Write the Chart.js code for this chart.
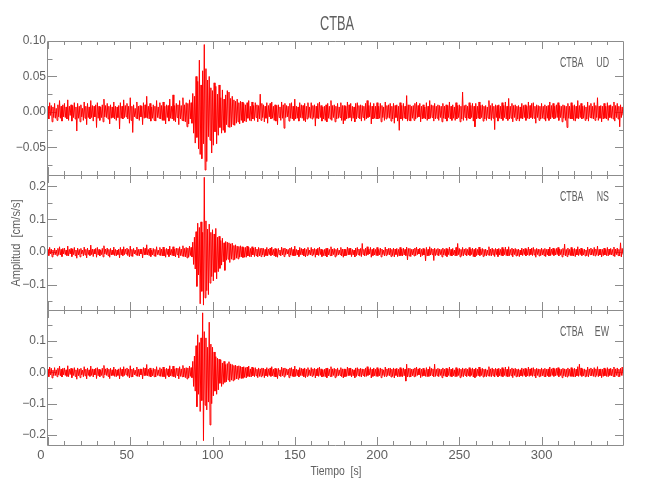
<!DOCTYPE html>
<html>
<head>
<meta charset="utf-8">
<script src="https://cdn.jsdelivr.net/npm/chart.js@4.4.1/dist/chart.umd.min.js"></script>
<style>
  body { margin: 0; background: #fff; }
  #fig { position: relative; width: 650px; height: 500px; overflow: hidden;
         font-family: 'Liberation Sans', Arial, sans-serif; color: #606060; }
  canvas { position: absolute; left: 0; }
  .lbl { position: absolute; white-space: pre; text-align: center; z-index: 5; }
</style>
</head>
<body>
<div id="fig">
  <canvas id="panelUD" width="650" height="160" style="top:25px"></canvas>
  <canvas id="panelNS" width="650" height="155" style="top:165px"></canvas>
  <canvas id="panelEW" width="650" height="170" style="top:300px"></canvas>
  <div class="lbl" style="left:237px;top:13px;width:200px;font-size:20px;line-height:20px;transform:scaleX(0.64)">CTBA</div>
  <div class="lbl" style="left:-84px;top:234.5px;width:200px;height:16px;font-size:13px;line-height:16px;transform:rotate(-90deg) scaleX(0.85)">Amplitud  [cm/s/s]</div>
  <div class="lbl" style="left:236px;top:462.5px;width:200px;font-size:13px;line-height:16px;transform:scaleX(0.8)">Tiempo  [s]</div>
</div>
<script>
// two samples per second, 0..349.5 s (each row below = 10 s)
const times = Array.from({ length: 700 }, (_, i) => i * 0.5);
const timeTicks = [0, 50, 100, 150, 200, 250, 300];
const station = 'CTBA';

// vertical component [cm/s/s]
const udValues = [
  0.008,-0.010,0.013,-0.005,0.009,-0.014,0.007,-0.008,0.012,-0.009,0.005,-0.012,0.010,-0.007,0.016,-0.009,0.008,-0.013,0.010,-0.007,
  0.012,-0.008,0.007,-0.010,0.017,-0.012,0.008,-0.005,0.010,-0.013,0.009,-0.008,0.013,-0.010,0.007,-0.027,0.012,-0.009,0.008,-0.014,
  0.010,-0.007,0.005,-0.012,0.014,-0.009,0.008,-0.018,0.012,-0.008,0.007,-0.010,0.016,-0.008,0.009,-0.013,0.008,-0.007,0.010,-0.022,
  0.013,-0.009,0.008,-0.012,0.007,-0.008,0.010,-0.014,0.018,-0.007,0.009,-0.008,0.012,-0.010,0.008,-0.017,0.010,-0.009,0.007,-0.008,
  0.014,-0.010,0.008,-0.012,0.007,-0.008,0.009,-0.024,0.013,-0.009,0.008,-0.010,0.017,-0.008,0.009,-0.007,0.012,-0.010,0.008,-0.016,
  0.020,-0.012,0.008,-0.029,0.010,-0.007,0.005,-0.009,0.014,-0.010,0.008,-0.012,0.009,-0.007,0.008,-0.018,0.013,-0.009,0.010,-0.008,
  0.022,-0.009,0.008,-0.010,0.012,-0.013,0.007,-0.009,0.010,-0.012,0.008,-0.013,0.016,-0.008,0.007,-0.009,0.013,-0.010,0.009,-0.012,
  0.014,-0.012,0.008,-0.017,0.010,-0.008,0.009,-0.013,0.018,-0.009,0.008,-0.010,0.024,-0.012,0.009,-0.014,0.012,-0.008,0.010,-0.018,
  0.016,-0.010,0.009,-0.012,0.020,-0.013,0.010,-0.014,0.013,-0.021,0.012,-0.017,0.017,-0.010,0.013,-0.016,0.026,-0.030,0.022,-0.044,
  0.050,-0.036,0.043,-0.052,0.073,-0.060,0.038,-0.066,0.058,-0.045,0.095,-0.082,0.061,-0.070,0.045,-0.035,0.050,-0.040,0.034,-0.058,
  0.030,-0.047,0.041,-0.028,0.036,-0.045,0.025,-0.033,0.038,-0.022,0.020,-0.030,0.031,-0.026,0.018,-0.029,0.024,-0.018,0.030,-0.021,
  0.028,-0.022,0.019,-0.021,0.022,-0.018,0.017,-0.019,0.015,-0.016,0.018,-0.014,0.013,-0.017,0.015,-0.012,0.014,-0.015,0.012,-0.013,
  0.010,-0.014,0.013,-0.009,0.016,-0.012,0.008,-0.013,0.014,-0.010,0.009,-0.012,0.013,-0.008,0.010,-0.014,0.009,-0.010,0.025,-0.012,
  0.012,-0.008,0.010,-0.014,0.008,-0.009,0.013,-0.016,0.009,-0.007,0.012,-0.010,0.014,-0.009,0.008,-0.012,0.010,-0.013,0.009,-0.018,
  0.010,-0.008,0.007,-0.012,0.014,-0.009,0.010,-0.023,0.012,-0.008,0.009,-0.007,0.008,-0.013,0.012,-0.009,0.013,-0.010,0.008,-0.012,
  0.018,-0.010,0.008,-0.009,0.007,-0.013,0.013,-0.008,0.010,-0.009,0.009,-0.012,0.012,-0.014,0.008,-0.010,0.013,-0.008,0.007,-0.009,
  0.013,-0.010,0.009,-0.008,0.010,-0.020,0.008,-0.009,0.012,-0.010,0.014,-0.008,0.009,-0.013,0.007,-0.010,0.008,-0.012,0.010,-0.014,
  0.012,-0.009,0.008,-0.010,0.016,-0.012,0.009,-0.008,0.010,-0.014,0.008,-0.010,0.012,-0.009,0.007,-0.008,0.013,-0.012,0.009,-0.017,
  0.009,-0.012,0.008,-0.010,0.014,-0.009,0.010,-0.008,0.012,-0.013,0.008,-0.009,0.007,-0.014,0.012,-0.010,0.013,-0.008,0.009,-0.010,
  0.010,-0.013,0.009,-0.008,0.008,-0.012,0.012,-0.010,0.016,-0.008,0.009,-0.007,0.013,-0.017,0.008,-0.010,0.012,-0.009,0.008,-0.010,
  0.013,-0.010,0.008,-0.009,0.012,-0.014,0.009,-0.008,0.007,-0.012,0.014,-0.010,0.009,-0.008,0.010,-0.009,0.012,-0.013,0.008,-0.010,
  0.012,-0.016,0.009,-0.008,0.010,-0.013,0.008,-0.026,0.013,-0.010,0.009,-0.012,0.012,-0.009,0.008,-0.010,0.023,-0.013,0.010,-0.012,
  0.010,-0.013,0.008,-0.009,0.009,-0.012,0.012,-0.010,0.014,-0.008,0.009,-0.007,0.012,-0.014,0.008,-0.010,0.010,-0.009,0.007,-0.010,
  0.013,-0.012,0.008,-0.010,0.016,-0.009,0.010,-0.008,0.009,-0.013,0.012,-0.010,0.008,-0.009,0.010,-0.012,0.009,-0.008,0.008,-0.014,
  0.012,-0.009,0.008,-0.010,0.010,-0.013,0.009,-0.008,0.014,-0.010,0.008,-0.012,0.010,-0.009,0.007,-0.012,0.013,-0.010,0.009,-0.008,
  0.010,-0.014,0.008,-0.010,0.028,-0.012,0.009,-0.008,0.010,-0.012,0.008,-0.009,0.013,-0.010,0.009,-0.008,0.012,-0.013,0.008,-0.021,
  0.012,-0.010,0.008,-0.009,0.014,-0.010,0.009,-0.008,0.010,-0.013,0.008,-0.010,0.009,-0.012,0.007,-0.009,0.016,-0.010,0.009,-0.012,
  0.012,-0.009,0.008,-0.025,0.010,-0.008,0.009,-0.013,0.010,-0.009,0.008,-0.010,0.013,-0.012,0.009,-0.008,0.014,-0.010,0.008,-0.012,
  0.019,-0.010,0.008,-0.009,0.012,-0.014,0.009,-0.008,0.010,-0.012,0.008,-0.010,0.009,-0.013,0.007,-0.009,0.012,-0.010,0.009,-0.008,
  0.010,-0.012,0.008,-0.009,0.014,-0.010,0.009,-0.008,0.012,-0.010,0.013,-0.009,0.008,-0.016,0.010,-0.008,0.009,-0.012,0.008,-0.010,
  0.012,-0.009,0.008,-0.010,0.010,-0.013,0.008,-0.009,0.009,-0.012,0.014,-0.010,0.009,-0.008,0.012,-0.010,0.008,-0.009,0.010,-0.008,
  0.013,-0.012,0.009,-0.008,0.008,-0.014,0.010,-0.009,0.009,-0.012,0.008,-0.022,0.012,-0.009,0.008,-0.010,0.013,-0.010,0.009,-0.012,
  0.010,-0.013,0.008,-0.009,0.016,-0.010,0.009,-0.008,0.012,-0.010,0.008,-0.009,0.009,-0.012,0.007,-0.010,0.014,-0.013,0.009,-0.008,
  0.012,-0.009,0.008,-0.010,0.013,-0.012,0.009,-0.008,0.020,-0.012,0.008,-0.009,0.009,-0.014,0.008,-0.010,0.012,-0.009,0.008,-0.010,
  0.013,-0.012,0.009,-0.008,0.010,-0.009,0.008,-0.010,0.014,-0.013,0.009,-0.008,0.012,-0.010,0.008,-0.021,0.010,-0.008,0.007,-0.005
];

// north-south component [cm/s/s]
const nsValues = [
  0.008,-0.011,0.014,-0.006,0.009,-0.015,0.006,-0.009,0.012,-0.008,0.006,-0.012,0.011,-0.008,0.016,-0.009,0.008,-0.014,0.011,-0.006,
  0.012,-0.008,0.006,-0.011,0.018,-0.012,0.008,-0.006,0.011,-0.014,0.009,-0.008,0.014,-0.011,0.006,-0.019,0.012,-0.009,0.008,-0.015,
  0.011,-0.006,0.006,-0.012,0.015,-0.009,0.008,-0.018,0.012,-0.008,0.006,-0.011,0.021,-0.008,0.009,-0.014,0.008,-0.006,0.011,-0.016,
  0.014,-0.009,0.008,-0.012,0.006,-0.008,0.011,-0.015,0.019,-0.006,0.009,-0.008,0.012,-0.011,0.008,-0.016,0.011,-0.009,0.006,-0.008,
  0.015,-0.011,0.008,-0.012,0.006,-0.008,0.009,-0.018,0.014,-0.009,0.008,-0.011,0.016,-0.008,0.009,-0.006,0.012,-0.011,0.008,-0.015,
  0.018,-0.012,0.008,-0.014,0.011,-0.006,0.006,-0.009,0.015,-0.011,0.008,-0.012,0.009,-0.006,0.008,-0.018,0.014,-0.009,0.011,-0.008,
  0.022,-0.009,0.008,-0.011,0.012,-0.014,0.006,-0.009,0.011,-0.012,0.008,-0.014,0.016,-0.008,0.006,-0.009,0.014,-0.011,0.009,-0.012,
  0.015,-0.012,0.008,-0.016,0.011,-0.008,0.009,-0.014,0.018,-0.009,0.008,-0.011,0.016,-0.012,0.009,-0.015,0.012,-0.008,0.011,-0.018,
  0.016,-0.011,0.009,-0.012,0.019,-0.014,0.011,-0.015,0.014,-0.018,0.012,-0.016,0.018,-0.011,0.014,-0.015,0.030,-0.038,0.045,-0.052,
  0.062,-0.105,0.088,-0.070,0.075,-0.158,0.092,-0.120,0.060,-0.162,0.228,-0.140,0.095,-0.118,0.070,-0.130,0.085,-0.095,0.060,-0.075,
  0.068,-0.088,0.055,-0.062,0.072,-0.082,0.045,-0.060,0.048,-0.050,0.035,-0.040,0.042,-0.030,0.028,-0.056,0.032,-0.025,0.030,-0.022,
  0.028,-0.032,0.025,-0.022,0.027,-0.024,0.020,-0.023,0.022,-0.019,0.018,-0.021,0.017,-0.016,0.019,-0.015,0.016,-0.017,0.014,-0.016,
  0.014,-0.016,0.018,-0.012,0.015,-0.014,0.011,-0.015,0.016,-0.009,0.012,-0.014,0.015,-0.011,0.009,-0.015,0.014,-0.012,0.011,-0.014,
  0.012,-0.009,0.011,-0.015,0.008,-0.011,0.014,-0.012,0.009,-0.008,0.012,-0.011,0.015,-0.009,0.008,-0.012,0.011,-0.014,0.009,-0.016,
  0.011,-0.008,0.006,-0.012,0.015,-0.009,0.011,-0.014,0.012,-0.008,0.009,-0.006,0.008,-0.014,0.012,-0.009,0.014,-0.011,0.008,-0.012,
  0.018,-0.011,0.008,-0.009,0.006,-0.014,0.014,-0.008,0.011,-0.009,0.009,-0.012,0.012,-0.015,0.008,-0.011,0.014,-0.008,0.006,-0.009,
  0.014,-0.011,0.009,-0.008,0.011,-0.016,0.008,-0.009,0.012,-0.011,0.015,-0.008,0.009,-0.014,0.006,-0.011,0.008,-0.012,0.011,-0.015,
  0.012,-0.009,0.008,-0.011,0.016,-0.012,0.009,-0.008,0.011,-0.015,0.008,-0.011,0.012,-0.009,0.006,-0.008,0.014,-0.012,0.009,-0.016,
  0.009,-0.012,0.008,-0.011,0.015,-0.009,0.011,-0.008,0.012,-0.014,0.008,-0.009,0.006,-0.015,0.012,-0.011,0.014,-0.008,0.009,-0.011,
  0.011,-0.014,0.026,-0.008,0.008,-0.012,0.012,-0.011,0.016,-0.008,0.009,-0.006,0.014,-0.016,0.008,-0.011,0.012,-0.009,0.008,-0.011,
  0.014,-0.011,0.008,-0.009,0.012,-0.015,0.009,-0.008,0.006,-0.012,0.015,-0.011,0.009,-0.008,0.011,-0.009,0.012,-0.014,0.008,-0.011,
  0.012,-0.015,0.009,-0.008,0.011,-0.014,0.008,-0.012,0.014,-0.011,0.009,-0.012,0.012,-0.009,0.008,-0.011,0.015,-0.024,0.011,-0.012,
  0.011,-0.014,0.008,-0.009,0.009,-0.012,0.012,-0.011,0.015,-0.008,0.009,-0.006,0.012,-0.015,0.008,-0.011,0.011,-0.009,0.008,-0.027,
  0.014,-0.012,0.008,-0.011,0.016,-0.009,0.011,-0.008,0.009,-0.026,0.012,-0.011,0.008,-0.009,0.011,-0.012,0.009,-0.008,0.008,-0.015,
  0.012,-0.009,0.008,-0.011,0.011,-0.014,0.009,-0.008,0.015,-0.011,0.008,-0.012,0.011,-0.009,0.006,-0.012,0.014,-0.011,0.026,-0.008,
  0.011,-0.015,0.008,-0.011,0.014,-0.012,0.009,-0.008,0.011,-0.012,0.008,-0.009,0.014,-0.011,0.009,-0.008,0.012,-0.014,0.008,-0.015,
  0.012,-0.011,0.008,-0.009,0.015,-0.011,0.009,-0.008,0.011,-0.014,0.008,-0.011,0.009,-0.012,0.006,-0.009,0.016,-0.011,0.009,-0.012,
  0.012,-0.009,0.008,-0.014,0.011,-0.008,0.009,-0.014,0.011,-0.009,0.008,-0.011,0.014,-0.012,0.009,-0.008,0.015,-0.011,0.008,-0.012,
  0.016,-0.011,0.008,-0.009,0.012,-0.015,0.009,-0.008,0.011,-0.012,0.008,-0.011,0.009,-0.014,0.006,-0.009,0.012,-0.011,0.009,-0.008,
  0.011,-0.012,0.008,-0.009,0.015,-0.011,0.009,-0.008,0.012,-0.011,0.014,-0.009,0.008,-0.016,0.011,-0.008,0.009,-0.012,0.008,-0.011,
  0.012,-0.009,0.008,-0.011,0.011,-0.014,0.008,-0.009,0.009,-0.012,0.015,-0.011,0.009,-0.008,0.012,-0.011,0.008,-0.009,0.011,-0.008,
  0.014,-0.012,0.009,-0.008,0.008,-0.015,0.011,-0.009,0.024,-0.012,0.008,-0.014,0.012,-0.009,0.008,-0.011,0.014,-0.011,0.009,-0.012,
  0.011,-0.014,0.008,-0.009,0.016,-0.011,0.009,-0.008,0.012,-0.011,0.008,-0.009,0.009,-0.012,0.006,-0.011,0.015,-0.014,0.009,-0.008,
  0.012,-0.009,0.008,-0.011,0.014,-0.012,0.009,-0.008,0.018,-0.012,0.008,-0.009,0.009,-0.015,0.008,-0.011,0.012,-0.009,0.008,-0.011,
  0.014,-0.012,0.009,-0.008,0.011,-0.009,0.008,-0.011,0.015,-0.014,0.009,-0.008,0.012,-0.011,0.008,-0.012,0.028,-0.015,0.011,-0.008
];

// east-west component [cm/s/s]
const ewValues = [
  0.010,-0.014,0.017,-0.008,0.013,-0.018,0.007,-0.011,0.015,-0.010,0.008,-0.014,0.013,-0.008,0.020,-0.011,0.010,-0.015,0.013,-0.008,
  0.014,-0.010,0.008,-0.013,0.021,-0.014,0.010,-0.007,0.013,-0.017,0.011,-0.010,0.015,-0.013,0.008,-0.022,0.014,-0.011,0.010,-0.017,
  0.013,-0.008,0.007,-0.014,0.018,-0.011,0.010,-0.021,0.014,-0.010,0.008,-0.013,0.020,-0.010,0.011,-0.015,0.010,-0.008,0.013,-0.020,
  0.015,-0.011,0.010,-0.014,0.008,-0.010,0.013,-0.017,0.022,-0.008,0.011,-0.010,0.014,-0.013,0.010,-0.020,0.013,-0.011,0.008,-0.010,
  0.017,-0.013,0.010,-0.014,0.008,-0.010,0.011,-0.021,0.015,-0.011,0.010,-0.013,0.018,-0.010,0.011,-0.008,0.014,-0.013,0.010,-0.018,
  0.021,-0.014,0.010,-0.015,0.013,-0.008,0.007,-0.011,0.017,-0.013,0.010,-0.014,0.011,-0.008,0.010,-0.021,0.015,-0.011,0.013,-0.010,
  0.025,-0.011,0.010,-0.013,0.014,-0.015,0.008,-0.011,0.013,-0.014,0.010,-0.015,0.018,-0.010,0.008,-0.011,0.015,-0.013,0.011,-0.014,
  0.017,-0.014,0.010,-0.020,0.013,-0.010,0.011,-0.015,0.021,-0.011,0.010,-0.013,0.020,-0.014,0.011,-0.017,0.014,-0.010,0.013,-0.021,
  0.018,-0.013,0.011,-0.014,0.022,-0.015,0.013,-0.017,0.015,-0.021,0.014,-0.018,0.020,-0.013,0.015,-0.017,0.035,-0.045,0.052,-0.060,
  0.085,-0.110,0.120,-0.070,0.095,-0.125,0.110,-0.090,0.190,-0.218,0.130,-0.105,0.110,-0.120,0.080,-0.095,0.160,-0.168,0.090,-0.100,
  0.080,-0.075,0.065,-0.060,0.050,-0.070,0.045,-0.056,0.042,-0.035,0.040,-0.045,0.030,-0.038,0.035,-0.032,0.025,-0.030,0.028,-0.024,
  0.034,-0.030,0.027,-0.025,0.025,-0.027,0.022,-0.024,0.023,-0.021,0.020,-0.022,0.021,-0.018,0.019,-0.020,0.017,-0.019,0.018,-0.016,
  0.015,-0.018,0.017,-0.013,0.020,-0.014,0.011,-0.015,0.017,-0.011,0.013,-0.014,0.015,-0.011,0.010,-0.017,0.014,-0.013,0.011,-0.014,
  0.014,-0.011,0.013,-0.017,0.010,-0.011,0.015,-0.014,0.011,-0.010,0.014,-0.013,0.018,-0.011,0.010,-0.014,0.013,-0.015,0.011,-0.020,
  0.013,-0.010,0.008,-0.014,0.017,-0.011,0.013,-0.015,0.014,-0.010,0.011,-0.008,0.010,-0.017,0.014,-0.011,0.015,-0.013,0.010,-0.014,
  0.020,-0.013,0.010,-0.011,0.008,-0.015,0.015,-0.010,0.013,-0.011,0.011,-0.014,0.014,-0.017,0.010,-0.013,0.015,-0.010,0.008,-0.011,
  0.015,-0.013,0.011,-0.010,0.013,-0.018,0.010,-0.011,0.014,-0.013,0.017,-0.010,0.011,-0.015,0.008,-0.013,0.010,-0.014,0.013,-0.017,
  0.014,-0.011,0.010,-0.013,0.018,-0.014,0.011,-0.010,0.013,-0.017,0.010,-0.013,0.014,-0.011,0.008,-0.010,0.015,-0.014,0.011,-0.018,
  0.011,-0.014,0.010,-0.013,0.017,-0.011,0.013,-0.010,0.014,-0.015,0.010,-0.011,0.008,-0.017,0.014,-0.013,0.015,-0.010,0.011,-0.013,
  0.013,-0.015,0.011,-0.010,0.010,-0.014,0.014,-0.013,0.018,-0.010,0.011,-0.008,0.015,-0.018,0.010,-0.013,0.014,-0.011,0.010,-0.013,
  0.015,-0.013,0.010,-0.011,0.014,-0.017,0.011,-0.010,0.008,-0.014,0.017,-0.013,0.011,-0.010,0.013,-0.011,0.014,-0.015,0.010,-0.013,
  0.014,-0.018,0.011,-0.010,0.013,-0.015,0.010,-0.014,0.015,-0.013,0.011,-0.014,0.014,-0.011,0.010,-0.028,0.026,-0.015,0.013,-0.014,
  0.013,-0.015,0.010,-0.011,0.011,-0.014,0.014,-0.013,0.017,-0.010,0.011,-0.008,0.014,-0.017,0.010,-0.013,0.013,-0.011,0.008,-0.013,
  0.015,-0.014,0.010,-0.013,0.018,-0.011,0.013,-0.010,0.011,-0.015,0.026,-0.013,0.010,-0.011,0.013,-0.014,0.011,-0.010,0.010,-0.017,
  0.014,-0.011,0.010,-0.013,0.013,-0.015,0.011,-0.010,0.017,-0.013,0.010,-0.014,0.013,-0.011,0.008,-0.014,0.015,-0.013,0.011,-0.010,
  0.013,-0.017,0.010,-0.013,0.014,-0.014,0.011,-0.010,0.013,-0.014,0.010,-0.011,0.015,-0.013,0.011,-0.010,0.014,-0.015,0.010,-0.017,
  0.014,-0.013,0.010,-0.011,0.017,-0.013,0.011,-0.010,0.013,-0.015,0.010,-0.013,0.011,-0.014,0.008,-0.011,0.018,-0.013,0.011,-0.014,
  0.014,-0.011,0.010,-0.015,0.013,-0.010,0.011,-0.015,0.013,-0.011,0.010,-0.013,0.015,-0.014,0.011,-0.010,0.017,-0.013,0.010,-0.014,
  0.018,-0.013,0.010,-0.011,0.014,-0.017,0.011,-0.010,0.013,-0.014,0.010,-0.013,0.011,-0.015,0.008,-0.011,0.014,-0.013,0.011,-0.010,
  0.013,-0.014,0.010,-0.011,0.017,-0.013,0.011,-0.010,0.014,-0.013,0.015,-0.011,0.010,-0.018,0.013,-0.010,0.011,-0.014,0.010,-0.013,
  0.014,-0.011,0.010,-0.013,0.013,-0.015,0.010,-0.011,0.011,-0.014,0.017,-0.013,0.011,-0.010,0.014,-0.013,0.010,-0.011,0.013,-0.010,
  0.015,-0.014,0.011,-0.010,0.010,-0.017,0.013,-0.011,0.011,-0.014,0.010,-0.015,0.014,-0.011,0.010,-0.013,0.015,-0.013,0.011,-0.014,
  0.013,-0.015,0.010,-0.011,0.018,-0.013,0.026,-0.010,0.014,-0.013,0.010,-0.011,0.011,-0.014,0.008,-0.013,0.017,-0.015,0.011,-0.010,
  0.014,-0.011,0.010,-0.013,0.015,-0.014,0.011,-0.010,0.018,-0.014,0.010,-0.011,0.011,-0.017,0.010,-0.013,0.014,-0.011,0.010,-0.013,
  0.015,-0.014,0.011,-0.010,0.013,-0.011,0.010,-0.013,0.017,-0.015,0.011,-0.010,0.014,-0.013,0.010,-0.014,0.013,-0.010,0.017,-0.011
];

const udTicks = [-0.05, 0, 0.05, 0.10];
const udTickLabels = ['\u22120.05', '0.00', '0.05', '0.10'];
const nsTicks = [-0.1, 0, 0.1, 0.2];
const nsTickLabels = ['\u22120.1', '0.0', '0.1', '0.2'];
const ewTicks = [-0.2, -0.1, 0, 0.1];
const ewTickLabels = ['\u22120.2', '\u22120.1', '0.0', '0.1'];

const textColor = '#606060';
const axisColor = '#8c8c8c';
const fontFamily = "'Liberation Sans', Arial, sans-serif";

function condensedText(ctx, text, x, y, squeeze) {
    ctx.save();
    ctx.translate(x, y);
    ctx.scale(squeeze, 1);
    ctx.fillText(text, 0, 0);
    ctx.restore();
}

// IDL-style box with inward ticks on all four sides, plus the station/channel tag
const framePlugin = {
    id: 'frame',
    beforeDatasetsDraw(chart, args, opts) {
        const { ctx, chartArea: a, scales: { x, y } } = chart;
        const crisp = p => Math.round(p) + 0.5;
        ctx.save();
        ctx.strokeStyle = axisColor;
        ctx.lineWidth = 1;
        ctx.beginPath();
        ctx.rect(crisp(a.left) - 1, crisp(a.top), Math.round(a.width) + 1, Math.round(a.height));
        for (let t = 0; t <= x.max; t += 10) {
            const px = crisp(x.getPixelForValue(t));
            const len = t % 50 === 0 ? 8 : 4;
            ctx.moveTo(px, a.top); ctx.lineTo(px, a.top + len);
            ctx.moveTo(px, a.bottom); ctx.lineTo(px, a.bottom - len);
        }
        const k0 = Math.ceil(y.min / opts.minorStep - 1e-9);
        const k1 = Math.floor(y.max / opts.minorStep + 1e-9);
        for (let k = k0; k <= k1; k++) {
            const v = k * opts.minorStep;
            const major = opts.majors.some(m => Math.abs(m - v) < 1e-9);
            const py = crisp(y.getPixelForValue(v));
            ctx.moveTo(a.left, py); ctx.lineTo(a.left + (major ? 9 : 4.5), py);
            ctx.moveTo(a.right, py); ctx.lineTo(a.right - (major ? 8 : 4), py);
        }
        ctx.stroke();
        ctx.restore();
    },
    afterDraw(chart, args, opts) {
        const { ctx, chartArea: a } = chart;
        ctx.save();
        ctx.fillStyle = textColor;
        ctx.font = '14px ' + fontFamily;
        ctx.textAlign = 'right';
        ctx.textBaseline = 'alphabetic';
        condensedText(ctx, station, a.right - 39.5, a.top + 26, 0.63);
        condensedText(ctx, opts.channel, a.right - 14, a.top + 26, 0.63);
        ctx.restore();
    }
};

function makePanel(id, values, yMin, yMax, ticks, tickLabels, minorStep, channel, padTop, padBottom, showX) {
    return new Chart(document.getElementById(id), {
        type: 'line',
        data: {
            labels: times,
            datasets: [{
                data: values,
                borderColor: '#ff0000',
                borderWidth: 1,
                pointRadius: 0,
                tension: 0,
                fill: false
            }]
        },
        options: {
            responsive: false,
            animation: false,
            devicePixelRatio: 1,
            events: [],
            layout: { padding: { top: padTop, bottom: padBottom, left: 0, right: 27 } },
            plugins: {
                legend: { display: false },
                tooltip: { enabled: false },
                frame: { channel: channel, minorStep: minorStep, majors: ticks }
            },
            scales: {
                x: {
                    type: 'linear',
                    min: 0,
                    max: 349.5,
                    display: showX,
                    grid: { display: false, drawTicks: false },
                    border: { display: false },
                    afterBuildTicks: s => { s.ticks = timeTicks.map(v => ({ value: v })); },
                    afterFit: s => { if (showX) s.height = 25; },
                    ticks: {
                        color: textColor,
                        font: { family: fontFamily, size: 13 },
                        padding: 3,
                        maxRotation: 0,
                        autoSkip: false,
                        // IDL centres a 3-character field, so short labels sit left of the tick
                        callback: v => String(v).padEnd(3, '\u2007')
                    }
                },
                y: {
                    type: 'linear',
                    min: yMin,
                    max: yMax,
                    grid: { display: false, drawTicks: false },
                    border: { display: false },
                    afterBuildTicks: s => { s.ticks = ticks.map(v => ({ value: v })); },
                    afterFit: s => { s.width = 48; },
                    ticks: {
                        color: textColor,
                        font: { family: fontFamily, size: 12 },
                        padding: 2,
                        autoSkip: false,
                        callback: (v, i) => tickLabels[i]
                    }
                }
            }
        },
        plugins: [framePlugin]
    });
}

makePanel('panelUD', udValues, -0.089, 0.10, udTicks, udTickLabels, 0.025, 'UD', 16, 10, false);
makePanel('panelNS', nsValues, -0.177, 0.235, nsTicks, nsTickLabels, 0.05, 'NS', 10, 10, false);
makePanel('panelEW', ewValues, -0.232, 0.199, ewTicks, ewTickLabels, 0.05, 'EW', 10, 0, true);
</script>
</body>
</html>
